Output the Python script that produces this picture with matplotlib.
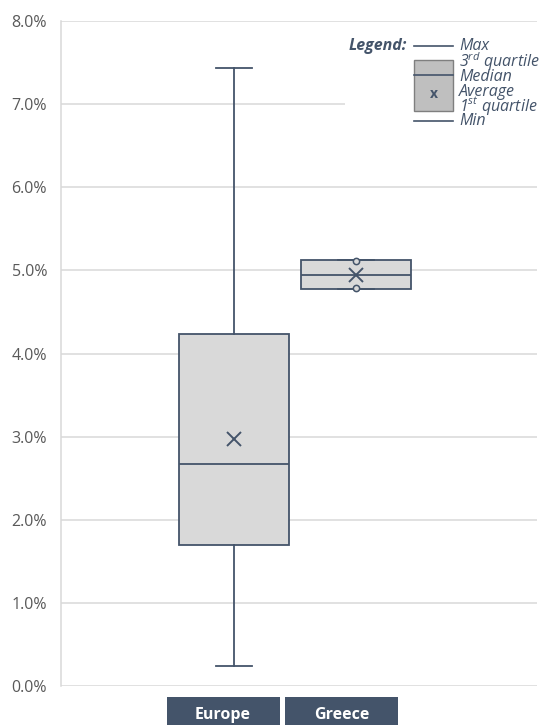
import matplotlib
matplotlib.use("Agg")
import matplotlib.pyplot as plt
from matplotlib.patches import Rectangle
from matplotlib.ticker import FuncFormatter

plt.rcParams['font.family'] = ['Open Sans', 'DejaVu Sans']
plt.rcParams['mathtext.fontset'] = 'custom'
plt.rcParams['mathtext.it'] = 'Open Sans:italic'
plt.rcParams['mathtext.rm'] = 'Open Sans:italic'

# ---- data (percent) ----
categories = ["Europe", "Greece"]
mins = [0.24, 4.77]
q1s = [1.70, 4.77]
medians = [2.67, 4.95]
q3s = [4.24, 5.13]
maxs = [7.43, 5.13]
means = [2.97, 4.95]
outliers = [[], [5.11, 4.79]]
yticks = [0, 1, 2, 3, 4, 5, 6, 7, 8]

DARK = "#44546A"
FILL = "#D9D9D9"
GRID = "#D9D9D9"

W, H = 546, 725
fig = plt.figure(figsize=(W / 100, H / 100), dpi=100)
ax = fig.add_axes([61 / W, 1 - 686 / H, (537 - 61) / W, (686 - 21) / H])

positions = [1, 2]
stats = []
for i, c in enumerate(categories):
    stats.append(dict(label=c, med=medians[i], q1=q1s[i], q3=q3s[i],
                      whislo=mins[i], whishi=maxs[i], mean=means[i],
                      fliers=outliers[i]))

ax.bxp(stats, positions=positions, widths=0.9, patch_artist=True,
       showmeans=True, showfliers=True, capwidths=0.29,
       boxprops=dict(facecolor=FILL, edgecolor=DARK, linewidth=1.3),
       medianprops=dict(color=DARK, linewidth=1.3),
       whiskerprops=dict(color=DARK, linewidth=1.3),
       capprops=dict(color=DARK, linewidth=1.3),
       meanprops=dict(marker='x', markeredgecolor=DARK, markersize=10,
                      markeredgewidth=1.4),
       flierprops=dict(marker='o', markerfacecolor=FILL, markeredgecolor=DARK,
                       markersize=4.5, markeredgewidth=1.1),
       zorder=3)

ax.set_xlim(1 - 173 / 122, 2 + 181 / 122)
ax.set_ylim(0, 8)
ax.set_yticks(yticks)
ax.yaxis.set_major_formatter(FuncFormatter(lambda v, p: f"{v:.1f}%"))
ax.tick_params(axis='y', length=0, pad=10, labelsize=11.5, labelcolor="#595959")
ax.set_xticks([])
ax.grid(axis='y', color=GRID, linewidth=1.1, zorder=0)
ax.set_axisbelow(True)
for s in ['top', 'right', 'bottom']:
    ax.spines[s].set_visible(False)
ax.spines['left'].set_color(GRID)
ax.spines['left'].set_linewidth(1.1)

# category label boxes
label_offsets = [-0.09, -0.115]
for i, c in enumerate(categories):
    xc = positions[i] + label_offsets[i]
    ax.add_patch(Rectangle((xc - 0.463, -0.13), 0.926, -0.6,
                           transform=ax.transData, facecolor=DARK,
                           edgecolor='none', clip_on=False))
    ax.text(xc, -0.40, c, ha='center', va='baseline', color='white',
            fontsize=11.5, fontweight='bold', clip_on=False)

# ---- legend (figure pixel coordinates) ----
def fx(x):
    return x / W

def fy(y):
    return 1 - y / H

fig.patches.append(Rectangle((fx(345), fy(132)), fx(540) - fx(345), fy(36) - fy(132),
                             transform=fig.transFigure, facecolor='white',
                             edgecolor='none', zorder=5))
fig.text(fx(407), fy(46), "Legend:", ha='right', va='center', color=DARK,
         fontsize=11.5, fontweight='bold', fontstyle='italic', zorder=6)
fig.add_artist(plt.Line2D([fx(414), fx(453)], [fy(46), fy(46)], color=DARK, lw=1.2, zorder=6))
fig.patches.append(Rectangle((fx(414), fy(111)), fx(453) - fx(414), fy(60) - fy(111),
                             transform=fig.transFigure, facecolor="#BFBFBF",
                             edgecolor="#7F7F7F", lw=1.0, zorder=6))
fig.add_artist(plt.Line2D([fx(414), fx(453)], [fy(75), fy(75)], color=DARK, lw=1.2, zorder=7))
fig.text(fx(433.5), fy(94), "x", ha='center', va='center', color=DARK,
         fontsize=10, fontweight='bold', zorder=7)
fig.add_artist(plt.Line2D([fx(414), fx(453)], [fy(121), fy(121)], color=DARK, lw=1.2, zorder=6))

legend_texts = [("Max", 46), ("3$^{rd}$ quartile", 62), ("Median", 77),
                ("Average", 92), ("1$^{st}$ quartile", 106), ("Min", 121)]
for t, yy in legend_texts:
    fig.text(fx(459), fy(yy), t, ha='left', va='center', color=DARK,
             fontsize=11.5, fontstyle='italic', zorder=7)

fig.savefig("out.png", dpi=100)
